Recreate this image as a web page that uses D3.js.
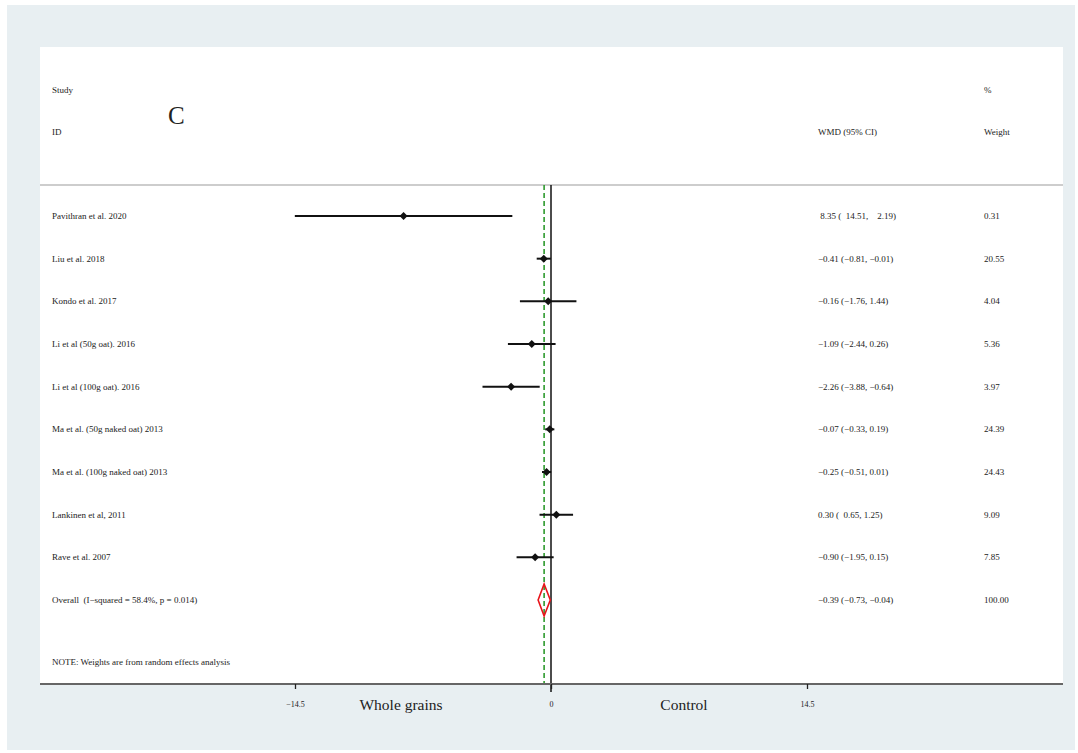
<!DOCTYPE html>
<html>
<head>
<meta charset="utf-8">
<script src="https://cdn.jsdelivr.net/npm/d3@7"></script>
<style>
  body { margin: 0; background: #fff; }
  text { font-family: "Liberation Serif", "Times New Roman", serif; fill: #222; white-space: pre; }
</style>
</head>
<body>
<svg id="chart" width="1078" height="753"></svg>
<script>
'use strict';

// study rows, top to bottom (last one is the pooled estimate)
var studies = [
  'Pavithran et al. 2020',
  'Liu et al. 2018',
  'Kondo et al. 2017',
  'Li et al (50g oat). 2016',
  'Li et al (100g oat). 2016',
  'Ma et al. (50g naked oat) 2013',
  'Ma et al. (100g naked oat) 2013',
  'Lankinen et al, 2011',
  'Rave et al. 2007',
  'Overall  (I\u2212squared = 58.4%, p = 0.014)'
];
var effects = [-8.35, -0.41, -0.16, -1.09, -2.26, -0.07, -0.25, 0.30, -0.90, -0.39];
var lowers  = [-14.51, -0.81, -1.76, -2.44, -3.88, -0.33, -0.51, -0.65, -1.95, -0.73];
var uppers  = [-2.19, -0.01, 1.44, 0.26, -0.64, 0.19, 0.01, 1.25, 0.15, -0.04];
var ciLabels = [
  ' 8.35 (  14.51,    2.19)',
  '\u22120.41 (\u22120.81, \u22120.01)',
  '\u22120.16 (\u22121.76, 1.44)',
  '\u22121.09 (\u22122.44, 0.26)',
  '\u22122.26 (\u22123.88, \u22120.64)',
  '\u22120.07 (\u22120.33, 0.19)',
  '\u22120.25 (\u22120.51, 0.01)',
  '0.30 (  0.65, 1.25)',
  '\u22120.90 (\u22121.95, 0.15)',
  '\u22120.39 (\u22120.73, \u22120.04)'
];
var weights = ['0.31', '20.55', '4.04', '5.36', '3.97', '24.39', '24.43', '9.09', '7.85', '100.00'];
var xTicks = [-14.5, 0, 14.5];

var svg = d3.select('#chart');

// frame: outer tinted band, white plot area
svg.append('rect').attr('x', 7).attr('y', 5).attr('width', 1068).attr('height', 745).attr('fill', '#e8eff2');
svg.append('rect').attr('x', 40).attr('y', 47).attr('width', 1023).attr('height', 637).attr('fill', '#fff');

var x = d3.scaleLinear().domain([-14.5, 14.5]).range([295, 807]);
var y = d3.scaleLinear().domain([0, studies.length - 1]).range([216, 600]);

var plotTop = 185, plotBottom = 684;

// header
svg.append('text').attr('x', 52).attr('y', 93).attr('font-size', 9).text('Study');
svg.append('text').attr('x', 52).attr('y', 135).attr('font-size', 9).text('ID');
svg.append('text').attr('x', 168).attr('y', 124).attr('font-size', 25).attr('fill', '#111').text('C');
svg.append('text').attr('x', 818).attr('y', 135).attr('font-size', 9).text('WMD (95% CI)');
svg.append('text').attr('x', 984).attr('y', 93).attr('font-size', 9).text('%');
svg.append('text').attr('x', 984).attr('y', 135).attr('font-size', 9).text('Weight');

svg.append('line')
  .attr('x1', 40).attr('x2', 1063).attr('y1', plotTop).attr('y2', plotTop)
  .attr('stroke', '#bdbdbd').attr('stroke-width', 1.5);

// reference lines
svg.append('line')
  .attr('x1', x(0)).attr('x2', x(0)).attr('y1', plotTop).attr('y2', plotBottom + 8)
  .attr('stroke', '#111').attr('stroke-width', 1.5);

var overallIdx = studies.length - 1;
svg.append('line')
  .attr('x1', x(effects[overallIdx])).attr('x2', x(effects[overallIdx]))
  .attr('y1', plotTop).attr('y2', plotBottom)
  .attr('stroke', '#2e9a2e').attr('stroke-width', 1.6).attr('stroke-dasharray', '5,3');

// rows
var rows = svg.append('g').selectAll('g.row')
  .data(studies)
  .enter().append('g').attr('class', 'row');

rows.append('text')
  .attr('x', 52).attr('y', function(d, i) { return y(i) + 3; })
  .attr('font-size', 9).text(function(d) { return d; });

rows.append('text')
  .attr('x', 818).attr('y', function(d, i) { return y(i) + 3; })
  .attr('font-size', 9)
  .text(function(d, i) { return ciLabels[i]; });

rows.append('text')
  .attr('x', 984).attr('y', function(d, i) { return y(i) + 3; })
  .attr('font-size', 9).text(function(d, i) { return weights[i]; });

// individual studies: CI line + diamond marker
var single = rows.filter(function(d, i) { return i < overallIdx; });

single.append('line')
  .attr('x1', function(d, i) { return x(lowers[i]); })
  .attr('x2', function(d, i) { return x(uppers[i]); })
  .attr('y1', function(d, i) { return y(i); })
  .attr('y2', function(d, i) { return y(i); })
  .attr('stroke', '#111').attr('stroke-width', 2);

single.append('path')
  .attr('d', function(d, i) {
    var cx = x(effects[i]), cy = y(i), r = 4;
    return 'M' + (cx - r) + ',' + cy + 'L' + cx + ',' + (cy - r) + 'L' + (cx + r) + ',' + cy + 'L' + cx + ',' + (cy + r) + 'Z';
  })
  .attr('fill', '#111');

// pooled estimate diamond
var oy = y(overallIdx);
svg.append('path')
  .attr('d', 'M' + x(lowers[overallIdx]) + ',' + oy +
    'L' + x(effects[overallIdx]) + ',' + (oy - 16) +
    'L' + x(uppers[overallIdx]) + ',' + oy +
    'L' + x(effects[overallIdx]) + ',' + (oy + 16) + 'Z')
  .attr('fill', 'none').attr('stroke', '#e8141a').attr('stroke-width', 1.6);

svg.append('text').attr('x', 52).attr('y', 665).attr('font-size', 9)
  .text('NOTE: Weights are from random effects analysis');

// x axis
svg.append('line')
  .attr('x1', 40).attr('x2', 1063).attr('y1', plotBottom).attr('y2', plotBottom)
  .attr('stroke', '#666').attr('stroke-width', 2);

var axis = d3.axisBottom(x)
  .tickValues(xTicks)
  .tickSize(5)
  .tickFormat(function(d) { return d === 0 ? '0' : (d < 0 ? '\u2212' : '') + Math.abs(d); });

var gAxis = svg.append('g').attr('transform', 'translate(0,' + plotBottom + ')').call(axis);
gAxis.select('.domain').remove();
gAxis.selectAll('.tick line').attr('stroke', '#222').attr('stroke-width', 1.3);
gAxis.selectAll('.tick text')
  .attr('y', 17).attr('font-size', 8)
  .style('font-family', '"Liberation Serif", serif').attr('fill', '#222');

svg.append('text').attr('x', 401).attr('y', 710).attr('text-anchor', 'middle')
  .attr('font-size', 15.5).text('Whole grains');
svg.append('text').attr('x', 684).attr('y', 710).attr('text-anchor', 'middle')
  .attr('font-size', 15.5).text('Control');
</script>
</body>
</html>
